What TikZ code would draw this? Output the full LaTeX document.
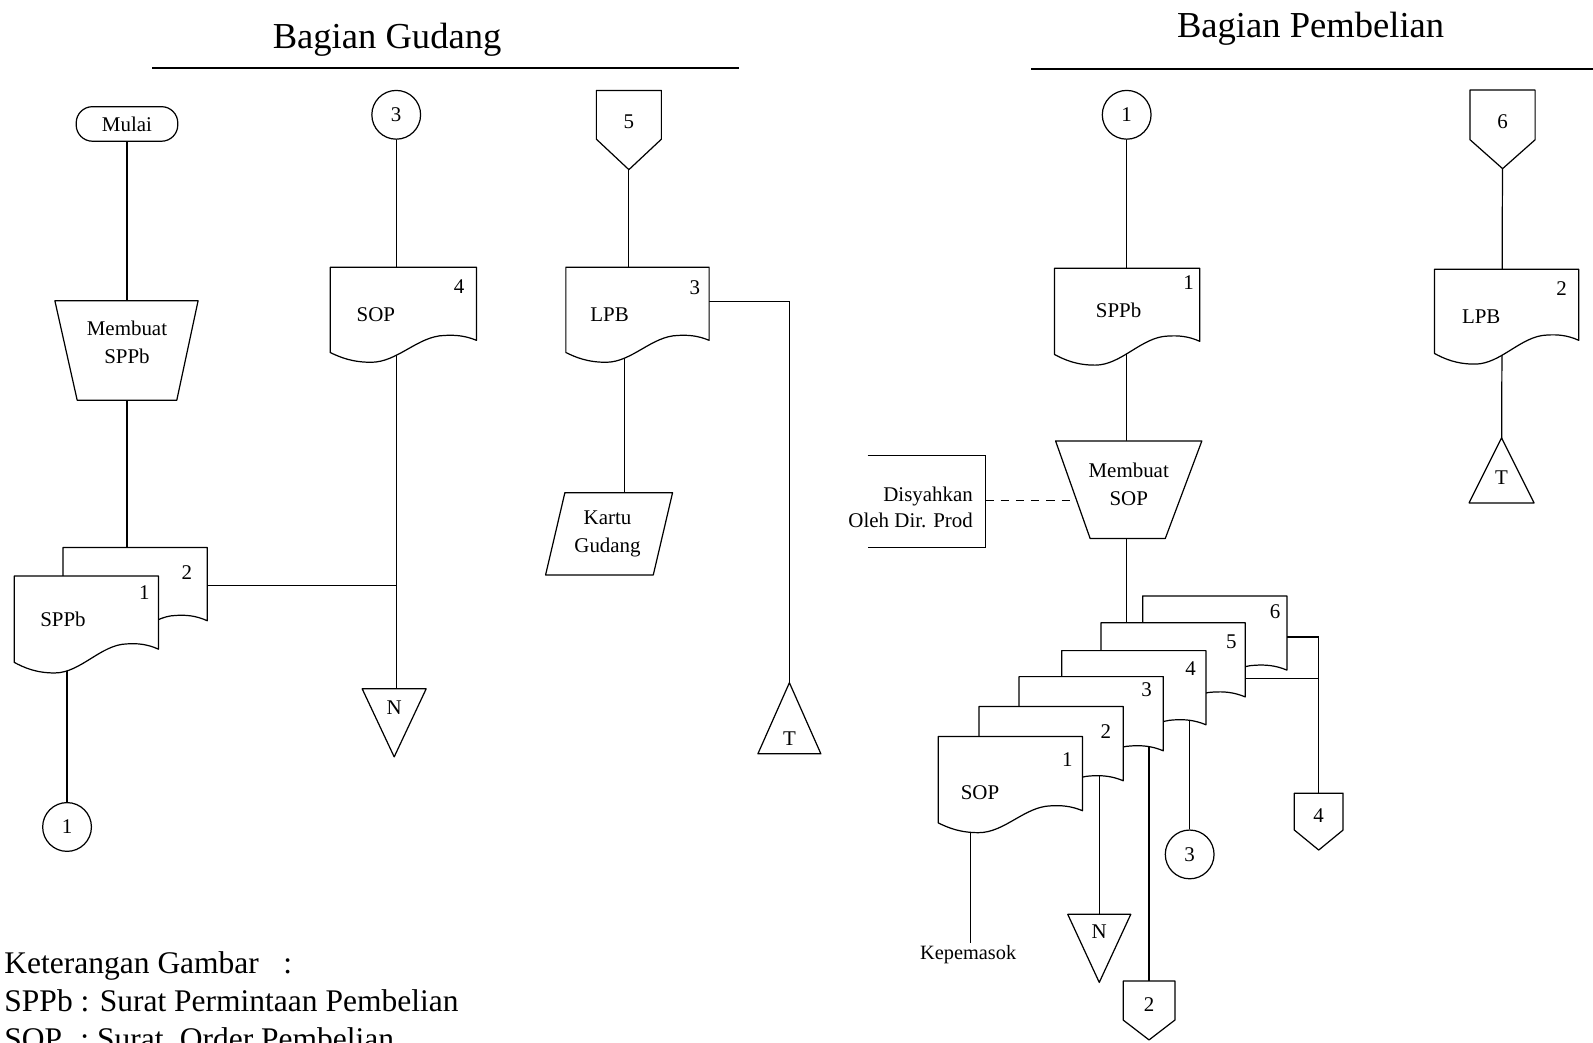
\documentclass[tikz,border=0pt]{standalone}
\usepackage{fontspec}
\setmainfont{Liberation Serif}
\usetikzlibrary{backgrounds}

% document symbol: top-left (#2,#3), width #4, left height #5, wave depth #6
\newcommand\DocShape[6]{%
  \draw[shp] (#2,#3) -- ({#2+#4},#3) -- ({#2+#4},{#3+#5-#6})
    .. controls ({#2+0.92*#4},{#3+#5-1.4*#6}) and ({#2+0.85*#4},{#3+#5-1.45*#6}) .. ({#2+0.78*#4},{#3+#5-1.4*#6})
    .. controls ({#2+0.6*#4},{#3+#5-1.35*#6}) and ({#2+0.46*#4},{#3+#5+0.8*#6}) .. ({#2+0.28*#4},{#3+#5+0.8*#6})
    .. controls ({#2+0.15*#4},{#3+#5+0.8*#6}) and ({#2+0.07*#4},{#3+#5+0.4*#6}) .. (#2,{#3+#5}) -- cycle;
  \coordinate (#1) at ({#2+0.5*#4},{#3+0.4*#5});}

% off-page connector: centre x #2, top #3, width #4, side height #5, point depth #6
\newcommand\OffPage[7]{%
  \draw[shp] ({#2-#4/2},#3) -- ({#2+#4/2},#3) -- ({#2+#4/2},{#3+#5}) -- (#2,{#3+#6})
    -- ({#2-#4/2},{#3+#5}) -- cycle;
  \node[lbl] (#1) at (#2,{#3+0.4*#6}) {#7};}

% triangle pointing down: centre x #2, top #3, width #4, apex #5
\newcommand\TriDown[7]{%
  \draw[shp] ({#2-#4/2},#3) -- ({#2+#4/2},#3) -- (#2,#5) -- cycle;
  \node[lbl] (#1) at (#2,#6) {#7};}

% triangle pointing up: centre x #2, apex #3, width #4, base #5
\newcommand\TriUp[7]{%
  \draw[shp] (#2,#3) -- ({#2+#4/2},#5) -- ({#2-#4/2},#5) -- cycle;
  \node[lbl] (#1) at (#2,#6) {#7};}

\tikzset{
  shp/.style={line width=0.6pt, fill=white, line join=round},
  conn/.style={line width=0.6pt},
  lbl/.style={font=\fontsize{10.3}{14}\selectfont, inner sep=0pt, align=center},
  circ/.style={circle, draw, line width=0.6pt, fill=white, minimum size=24pt,
    inner sep=0pt, font=\fontsize{10.3}{12}\selectfont},
  term/.style={draw, line width=0.6pt, fill=white, rounded corners=8pt,
    minimum width=50pt, minimum height=17pt, inner sep=0pt, font=\fontsize{10.3}{12}\selectfont},
  title/.style={font=\fontsize{18}{20}\selectfont, inner sep=0pt, anchor=base},
  legend/.style={font=\fontsize{15.5}{18}\selectfont, inner sep=0pt, anchor=base west}
}

\begin{document}
\begin{tikzpicture}[x=0.5pt, y=-0.5pt]
\useasboundingbox (0,0) rectangle (1568,1026);

% ---------------- headings ----------------
\node[title] (h-gudang) at (381,48) {Bagian Gudang};
\draw[conn] (150,67) -- (727,67);
\node[title] (h-beli) at (1290,37) {Bagian Pembelian};
\draw[conn] (1015,68) -- (1568,68);

% ================= Bagian Gudang =================
\node[term] (g-mulai) at (125,122) {Mulai};

\draw[shp] (54,296) -- (195,296) -- (174,394) -- (76,394) -- cycle;
\node[lbl] (g-mbsppb) at (125,337) {Membuat\\SPPb};

\DocShape{g-sppb2}{62}{539}{142}{85}{13}
\node[lbl] (g-sppb2-n) at (184,564) {2};
\DocShape{g-sppb1}{14}{567}{142}{85}{13}
\node[lbl] (g-sppb1-n) at (142,583) {1};
\node[lbl] (g-sppb1-t) at (62,610) {SPPb};

\node[circ] (g-c1) at (66,814) {1};

\node[circ] (g-c3) at (390,113) {3};
\DocShape{g-sop4}{325}{263}{144}{84}{12}
\node[lbl] (g-sop4-n) at (452,282) {4};
\node[lbl] (g-sop4-t) at (370,310) {SOP};
\TriDown{g-n}{388}{678}{63}{745}{697}{N}
\coordinate (g-jn) at (390,576);

\OffPage{g-5}{619}{89}{64}{48}{78}{5}
\DocShape{g-lpb3}{557}{263}{141}{84}{12}
\node[lbl] (g-lpb3-n) at (684,283) {3};
\node[lbl] (g-lpb3-t) at (600,310) {LPB};
\coordinate (g-lpb3b) at (615,310);

\draw[shp] (556,485) -- (662,485) -- (643,566) -- (537,566) -- cycle;
\node[lbl] (g-kartu) at (598,525.5) {Kartu\\Gudang};

\TriUp{g-t}{777}{672}{62}{742}{727}{T}

% ================= Bagian Pembelian =================
\node[circ] (r-c1) at (1109,113) {1};
\DocShape{r-sppb}{1038}{264}{143}{85}{13}
\node[lbl] (r-sppb-n) at (1170,278) {1};
\node[lbl] (r-sppb-t) at (1101,305) {SPPb};

\draw[shp] (1039,434) -- (1183,434) -- (1147,530) -- (1073,530) -- cycle;
\node[lbl] (r-mbsop) at (1111,476.5) {Membuat\\SOP};

\draw[conn] (854,448) -- (970,448) -- (970,539) -- (854,539);
\node[lbl, align=right, anchor=east, font=\fontsize{10.3}{12.5}\selectfont]
  (r-ann-t) at (958,499.5) {Disyahkan\\Oleh Dir. Prod};
\coordinate (r-ann) at (970,493);

% stack of six SOP copies, back to front
\DocShape{r-d6}{1124.7}{586.6}{142}{85}{12}
\node[lbl] (r-d6-n) at (1255,602) {6};
\DocShape{r-d5}{1083.7}{613}{142}{85}{12}
\node[lbl] (r-d5-n) at (1212,631.6) {5};
\DocShape{r-d4}{1045}{640.4}{142}{85}{12}
\node[lbl] (r-d4-n) at (1172,658.5) {4};
\DocShape{r-d3}{1003}{666}{142}{85}{12}
\node[lbl] (r-d3-n) at (1128.6,679) {3};
\DocShape{r-d2}{963.6}{695.5}{142}{85}{12}
\node[lbl] (r-d2-n) at (1088.6,720) {2};
\DocShape{r-d1}{923.5}{725}{142}{85}{12}
\node[lbl] (r-d1-n) at (1050.5,748) {1};
\node[lbl] (r-d1-t) at (964.6,780) {SOP};

\coordinate (r-kepl) at (955,928);
\node[lbl, font=\fontsize{10}{12}\selectfont] (r-kep) at (953,940) {Kepemasok};
\TriDown{r-n}{1082}{900}{62}{967}{917}{N}
\OffPage{r-o2}{1131}{965.6}{51}{38.4}{58}{2}
\node[circ] (r-c3) at (1171,841) {3};
\OffPage{r-o4}{1298}{780.7}{48}{36.3}{56}{4}
\coordinate (r-j5) at (1298,668);
\coordinate (r-j6) at (1298,627);

\OffPage{r-6}{1479}{88.6}{64}{49}{77.4}{6}
\DocShape{r-lpb2}{1412}{265}{142}{83}{13}
\node[lbl] (r-lpb2-n) at (1537,284) {2};
\node[lbl] (r-lpb2-t) at (1458,312) {LPB};
\TriUp{r-t}{1478}{431}{64}{495}{470}{T}

% ---------------- legend ----------------
\node[legend] (leg1) at (4,958) {Keterangan Gambar\hspace{12pt}:};
\node[legend] (leg2) at (4,996) {SPPb : Surat Permintaan Pembelian};
\node[legend] (leg3) at (4,1033) {SOP\hspace{9pt}: Surat\hspace{8pt}Order Pembelian};

% ---------------- flow lines (behind the symbols) ----------------
\begin{scope}[on background layer]
  \draw[conn] (g-mulai) -- (g-mbsppb);
  \draw[conn] (g-mbsppb) -- (g-mbsppb |- g-sppb2);
  \draw[conn] (g-c1) -- (g-c1 |- g-sppb1);
  \draw[conn] (g-jn -| g-sppb2) -- (g-jn);
  \draw[conn] (g-c3) -- (g-c3 |- g-n);
  \draw[conn] (g-5) -- (g-5 |- g-lpb3);
  \draw[conn] (g-lpb3b) -- (g-lpb3b |- g-kartu);
  \draw[conn] (g-lpb3) -| (g-t);

  \draw[conn] (r-c1) -- (r-c1 |- r-d5);
  \draw[conn, dash pattern=on 4pt off 3.5pt] (r-ann) -- (r-ann -| r-mbsop);
  \draw[conn] (r-kepl |- r-d1) -- (r-kepl);
  \draw[conn] (r-n) -- (r-n |- r-d2);
  \draw[conn] (r-o2) -- (r-o2 |- r-d3);
  \draw[conn] (r-c3) -- (r-c3 |- r-d4);
  \draw[conn] (r-j5 -| r-d5) -- (r-j5);
  \draw[conn] (r-j6 -| r-d6) -- (r-j6) -- (r-o4);
  \draw[conn] (r-6) -- (r-t);
\end{scope}
\end{tikzpicture}
\end{document}
